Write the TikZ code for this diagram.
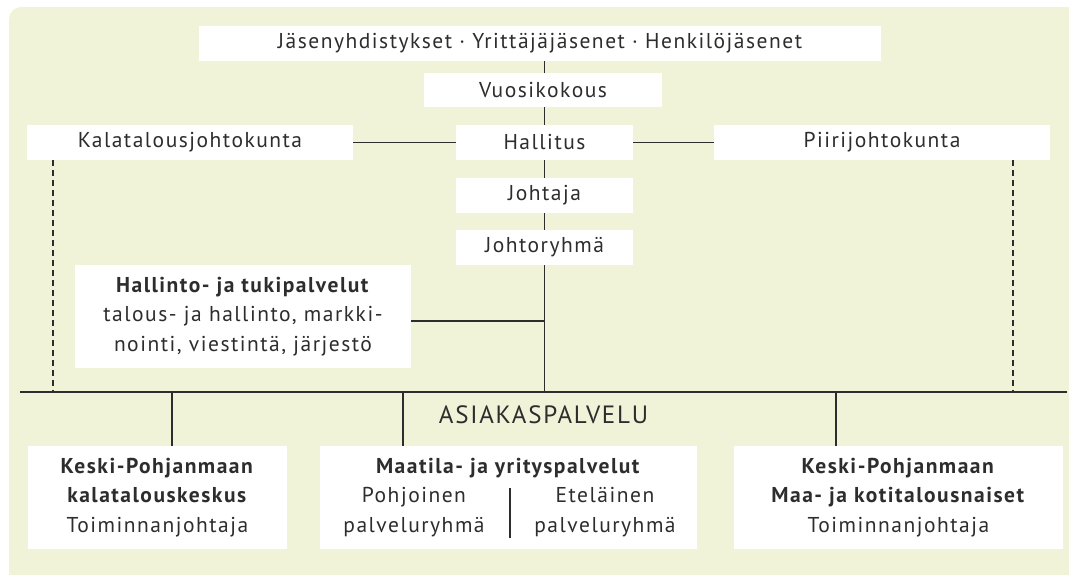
\documentclass[tikz,border=0pt]{standalone}
\usepackage{fontspec}
\setmainfont{PT Sans}[LetterSpace=7]
\definecolor{paper}{RGB}{240,243,216}
\definecolor{ink}{RGB}{45,45,45}
\begin{document}
\fontsize{21.5}{29.5}\selectfont
\begin{tikzpicture}[x=1pt,y=-1pt,
  box/.style={fill=white,text=ink,inner sep=0pt,minimum height=35pt,align=center},
  link/.style={draw=ink,line width=1.5pt},
  dotlink/.style={draw=ink,line width=1.2pt,dash pattern=on 6pt off 4pt}]
\useasboundingbox (0,0) rectangle (1069,574);
\fill[paper,rounded corners=12pt] (9,7) rectangle (1100,600);
% upper part
\node[box,minimum width=682pt] (jasen) at (540,43.5) {Jäsenyhdistykset · Yrittäjäjäsenet · Henkilöjäsenet};
\node[box,minimum width=238pt,minimum height=34pt] (vuosi) at (543,90) {Vuosikokous};
\node[box,minimum width=326pt] (kala) at (190,142.5) {Kalatalousjohtokunta};
\node[box,minimum width=177pt] (hallitus) at (544.5,142.5) {Hallitus};
\node[box,minimum width=336pt] (piiri) at (882,142.5) {Piirijohtokunta};
\node[box,minimum width=177pt] (johtaja) at (544.5,195.5) {Johtaja};
\node[box,minimum width=177pt] (ryhma) at (544.5,247.5) {Johtoryhmä};
\node[box,minimum width=336pt,minimum height=103pt] (tuki) at (243,316.5)
  {\textbf{Hallinto- ja tukipalvelut}\\talous- ja hallinto, markki-\\nointi, viestintä, järjestö};
% lower part
\node[text=ink,font=\fontsize{25}{30}\selectfont] (asiakas) at (543.5,415) {ASIAKASPALVELU};
\node[box,minimum width=259pt,minimum height=103pt] (keskus) at (157.5,497.5)
  {\textbf{Keski-Pohjanmaan}\\\textbf{kalatalouskeskus}\\Toiminnanjohtaja};
\node[box,minimum width=377pt,minimum height=103pt] (maatila) at (508.5,497.5) {};
\node[text=ink] (maatilaotsikko) at (508.5,468) {\textbf{Maatila- ja yrityspalvelut}};
\node[text=ink,align=center] (pohjoinen) at (414,512) {Pohjoinen\\palveluryhmä};
\node[text=ink,align=center] (etelainen) at (605,512) {Eteläinen\\palveluryhmä};
\node[box,minimum width=329pt,minimum height=103pt] (naiset) at (898.5,497.5)
  {\textbf{Keski-Pohjanmaan}\\\textbf{Maa- ja kotitalousnaiset}\\Toiminnanjohtaja};
% connectors
\coordinate (busL) at (20,392);
\coordinate (busR) at (1067,392);
\coordinate (dropA) at (172,392);
\coordinate (dropB) at (403,392);
\coordinate (dropC) at (836,392);
\coordinate (dashA) at (53,392);
\coordinate (dashB) at (1013,392);
\coordinate (jako) at (510,538);
\draw[link] (busL) -- (busR);
\draw[link] (jasen.south -| hallitus) -- (vuosi.north -| hallitus);
\draw[link] (vuosi.south -| hallitus) -- (hallitus.north);
\draw[link] (hallitus.south) -- (johtaja.north);
\draw[link] (johtaja.south) -- (ryhma.north);
\draw[link] (ryhma.south) -- (ryhma.south |- busL);
\draw[link] (kala.east) -- (hallitus.west);
\draw[link] (hallitus.east) -- (piiri.west);
\draw[link] ([yshift=-4.5pt]tuki.east) -- ([yshift=-4.5pt]tuki.east -| ryhma);
\draw[link] (dropA) -- (dropA |- keskus.north);
\draw[link] (dropB) -- (dropB |- maatila.north);
\draw[link] (dropC) -- (dropC |- naiset.north);
\draw[dotlink] (dashA |- kala.south) -- (dashA);
\draw[dotlink] (dashB |- piiri.south) -- (dashB);
\draw[link,line width=1.2pt] (jako) -- ++(0,-50);
\end{tikzpicture}
\end{document}
